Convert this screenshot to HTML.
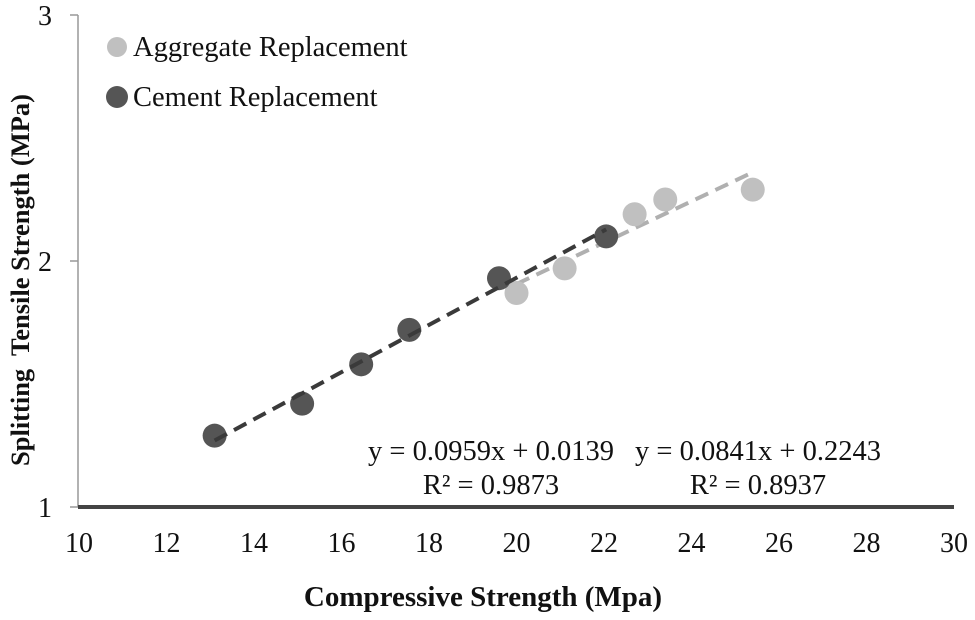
<!DOCTYPE html>
<html><head><meta charset="utf-8"><style>
body{margin:0;background:#fff;}
svg text{font-family:"Liberation Serif",serif;}
</style></head><body>
<svg id="chart" width="975" height="615" xmlns="http://www.w3.org/2000/svg">
<g id="grid"></g>
<g id="marks"></g>
<g id="labels"></g>
</svg>
<script>
const xTicks=[10,12,14,16,18,20,22,24,26,28,30];
const yTicks=[1,2,3];
const aggX=[20.0,21.1,22.7,23.4,25.4];
const aggY=[1.87,1.97,2.19,2.25,2.29];
const cemX=[13.1,15.1,16.45,17.55,19.6,22.05];
const cemY=[1.29,1.42,1.58,1.72,1.93,2.10];
const aggFit=[0.0841,0.2243];
const cemFit=[0.0959,0.0139];
const NS="http://www.w3.org/2000/svg";
const X=v=>79+(v-10)*43.75;
const Y=v=>507-(v-1)*246;
function mk(tag,attrs,parent,text){const e=document.createElementNS(NS,tag);for(const k in attrs)e.setAttribute(k,attrs[k]);if(text!==undefined)e.textContent=text;document.getElementById(parent).appendChild(e);return e;}
let e;
e=mk('line',{x1:78,y1:Y(3),x2:78,y2:507,stroke:'#999','stroke-width':1.5},'grid');


yTicks.forEach(t=>{
 e=mk('line',{x1:70,y1:Y(t),x2:78,y2:Y(t),stroke:'#999','stroke-width':1.5},'grid');
 
 
 e=mk('text',{x:52,y:Y(t)+10,'font-size':28,'text-anchor':'end',fill:'#111'},'labels',String(t));
 
 
});
e=mk('line',{x1:78,y1:507,x2:X(30),y2:507,stroke:'#444','stroke-width':4},'grid');


xTicks.forEach(t=>{
 e=mk('text',{x:X(t),y:552,'font-size':28,'text-anchor':'middle',fill:'#111'},'labels',String(t));
 
 
});
function fit(f,x0,x1,color,name){
 e=mk('line',{x1:X(x0),y1:Y(f[0]*x0+f[1]),x2:X(x1),y2:Y(f[0]*x1+f[1]),stroke:color,'stroke-width':4,'stroke-dasharray':'14,8'},'marks');
 
 
}
fit(aggFit,aggX[0],aggX[aggX.length-1],'#b0b0b0','aggregate-trendline');
aggX.forEach((x,i)=>{
 e=mk('circle',{cx:X(x),cy:Y(aggY[i]),r:12,fill:'#c0c0c0'},'marks');
 
 
});
cemX.forEach((x,i)=>{
 e=mk('circle',{cx:X(x),cy:Y(cemY[i]),r:12,fill:'#555'},'marks');
 
 
});
fit(cemFit,cemX[0],cemX[cemX.length-1],'#3a3a3a','cement-trendline');
</script>
<svg style="position:absolute;left:0;top:0" width="975" height="615">
<circle cx="117" cy="47" r="10" fill="#c0c0c0"/>
<text x="133" y="56" font-size="28.5" fill="#111">Aggregate Replacement</text>
<circle cx="117" cy="97" r="11" fill="#555"/>
<text x="133" y="106" font-size="28.5" fill="#111">Cement Replacement</text>
<text x="491" y="460" font-size="28.5" text-anchor="middle" fill="#111">y = 0.0959x + 0.0139</text>
<text x="491" y="494" font-size="28.5" text-anchor="middle" fill="#111">R² = 0.9873</text>
<text x="758" y="460" font-size="28.5" text-anchor="middle" fill="#111">y = 0.0841x + 0.2243</text>
<text x="758" y="494" font-size="28.5" text-anchor="middle" fill="#111">R² = 0.8937</text>
<text x="483" y="606" font-size="29" font-weight="bold" text-anchor="middle" fill="#111">Compressive Strength (Mpa)</text>
<text transform="translate(29,280) rotate(-90)" font-size="26.5" font-weight="bold" text-anchor="middle" fill="#111" xml:space="preserve">Splitting  Tensile Strength (MPa)</text>
</svg>
</body></html>
